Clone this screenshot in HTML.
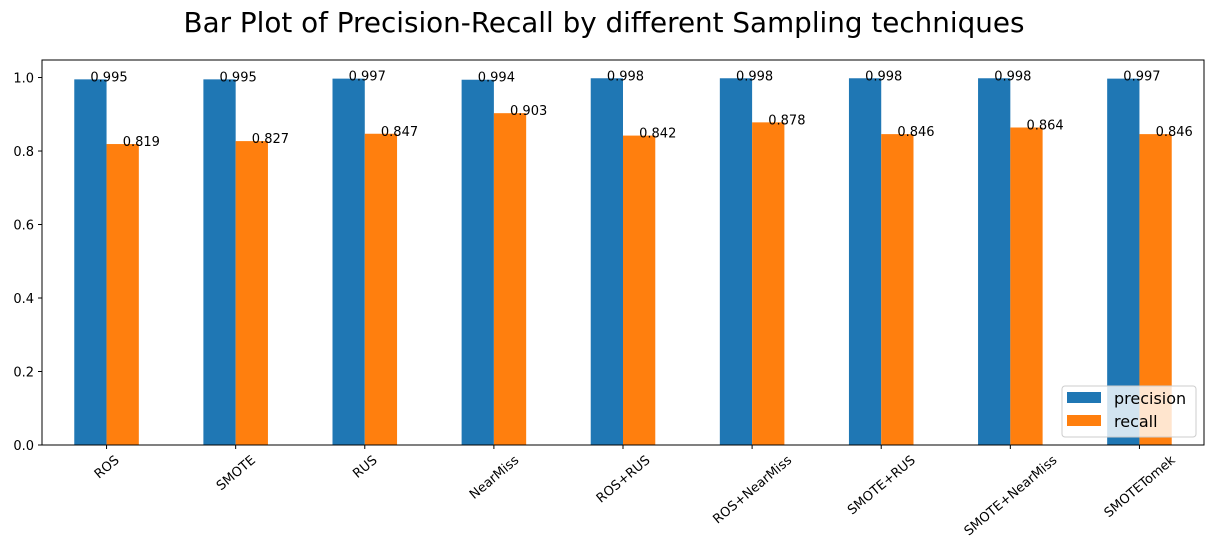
<!DOCTYPE html>
<html><head><meta charset="utf-8"><style>
body{margin:0;background:#fff}
svg{font-family:"DejaVu Sans","Liberation Sans",sans-serif}
</style></head><body>
<svg id="chart" width="1214" height="555">
<text x="604" y="32" font-size="27.8" text-anchor="middle">Bar Plot of Precision-Recall by different Sampling techniques</text>
<g id="plot"></g>
</svg>
<script>
const categories=["ROS","SMOTE","RUS","NearMiss","ROS+RUS","ROS+NearMiss","SMOTE+RUS","SMOTE+NearMiss","SMOTETomek"];
const precision=[0.995,0.995,0.997,0.994,0.998,0.998,0.998,0.998,0.997];
const recall=[0.819,0.827,0.847,0.903,0.842,0.878,0.846,0.864,0.846];
const yTicks=[0,0.2,0.4,0.6,0.8,1.0];
const L=42,R=1204,T=60,B=445,ymax=1.0477;
const ns="http://www.w3.org/2000/svg";
const g=document.getElementById('plot');
const step=(R-L)/categories.length;
const xc=i=>L+step*(i+0.5);
const y=v=>B-(v/ymax)*(B-T);
function mk(t,a,p){const e=document.createElementNS(ns,t);for(const k in a)e.setAttribute(k,a[k]);(p||g).appendChild(e);return e;}
const series=[{d:precision,c:"#1f77b4",o:-1,n:"precision"},{d:recall,c:"#ff7f0e",o:0,n:"recall"}];
const bw=step*0.25;
series.forEach(s=>{s.d.forEach((v,i)=>{
  const x=xc(i)+s.o*bw;
  const r=mk('rect',{x:x,y:y(v),width:bw,height:B-y(v),fill:s.c});
  
  
  const t=mk('text',{x:x+bw/2,y:y(v)+2,'font-size':13});
  t.textContent=v.toFixed(3);
  
  
});});
const ax=mk('rect',{x:L,y:T,width:R-L,height:B-T,fill:'none',stroke:'#000','stroke-width':1});


yTicks.forEach(v=>{
  mk('line',{x1:L-4,x2:L,y1:y(v),y2:y(v),stroke:'#000'});
  const t=mk('text',{x:L-8,y:y(v)+5,'font-size':13,'text-anchor':'end'});
  t.textContent=v.toFixed(1);
  
  
});
const a=40*Math.PI/180;
categories.forEach((c,i)=>{
  const x=xc(i);
  mk('line',{x1:x,x2:x,y1:B,y2:B+4,stroke:'#000'});
  const t=mk('text',{x:x,y:0,'font-size':13,'text-anchor':'middle'});
  t.textContent=c;
  
  
  const w=t.getComputedTextLength(),h=13;
  const cy=B+8+(w*Math.sin(a)+h*Math.cos(a))/2;
  t.setAttribute('y',cy+4.5);
  t.setAttribute('transform',`rotate(-40 ${x} ${cy})`);
});
const lg=mk('g',{});


mk('rect',{x:1062,y:386,width:134,height:51,rx:3,fill:'#fff','fill-opacity':0.8,stroke:'#ccc'},lg);
series.forEach((s,k)=>{
  mk('rect',{x:1067,y:392+k*23,width:34,height:11,fill:s.c},lg);
  const t=mk('text',{x:1114,y:404+k*23,'font-size':16},lg);
  t.textContent=s.n;
  
  
});
</script>
</body></html>
